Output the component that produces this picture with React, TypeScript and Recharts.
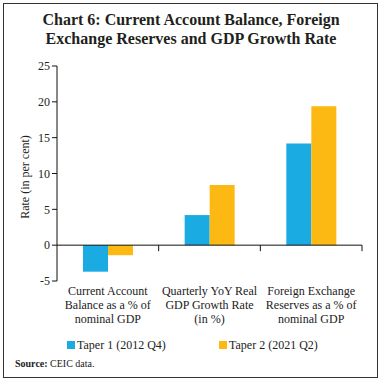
import { Bar, BarChart, ReferenceLine, XAxis, YAxis } from 'recharts';

const categories = [
  ['Current Account', 'Balance as a % of', 'nominal GDP'],
  ['Quarterly YoY Real', 'GDP Growth Rate', '(in %)'],
  ['Foreign Exchange', 'Reserves as a % of', 'nominal GDP'],
];
const taper1 = [-3.7, 4.2, 14.2];
const taper2 = [-1.4, 8.4, 19.4];
const yTicks = [-5, 0, 5, 10, 15, 20, 25];
const seriesNames = ['Taper 1 (2012 Q4)', 'Taper 2 (2021 Q2)'];

const BLUE = '#1aabe2';
const ORANGE = '#fdb913';
const FONT = '"Liberation Serif", "Times New Roman", serif';

const data = categories.map((lines, i) => ({
  name: lines.join(' '),
  taper1: taper1[i],
  taper2: taper2[i],
}));

function CategoryTick({ x, y, payload, index }: any) {
  const lines = categories[index] ?? [String(payload.value)];
  return (
    <text x={x} y={y} textAnchor="middle" fontSize={12} fill="#222" fontFamily={FONT}>
      {lines.map((line, i) => (
        <tspan key={line} x={x} dy={i === 0 ? 6 : 14}>
          {line}
        </tspan>
      ))}
    </text>
  );
}

// zero line with small downward ticks at the category boundaries
function ZeroLine({ x1, y1, x2 }: any) {
  const step = (x2 - x1) / categories.length;
  return (
    <g>
      <line x1={x1} y1={y1} x2={x2} y2={y1} stroke="#111" strokeWidth={1} />
      {categories.map((_, i) => (
        <line
          key={i}
          x1={x1 + step * (i + 1)}
          y1={y1}
          x2={x1 + step * (i + 1)}
          y2={y1 + 6}
          stroke="#111"
          strokeWidth={1}
        />
      ))}
    </g>
  );
}

export default function App() {
  const colors = [BLUE, ORANGE];
  return (
    <div style={{ position: 'relative', width: 382, height: 382, background: '#fff', fontFamily: FONT }}>
      <style>{'body{margin:0}'}</style>
      <div
        style={{
          position: 'absolute',
          left: 3,
          top: 3,
          right: 4,
          bottom: 4,
          border: '1.5px solid #333',
        }}
      />
      <div
        style={{
          position: 'absolute',
          top: 10,
          left: 0,
          width: 382,
          textAlign: 'center',
          fontWeight: 'bold',
          fontSize: 16,
          lineHeight: '19px',
          color: '#231f20',
        }}
      >
        Chart 6: Current Account Balance, Foreign
        <br />
        Exchange Reserves and GDP Growth Rate
      </div>
      <div
        style={{
          position: 'absolute',
          left: 25,
          top: 177,
          transform: 'translate(-50%, -50%) rotate(-90deg)',
          whiteSpace: 'nowrap',
          fontSize: 12,
          color: '#222',
        }}
      >
        Rate (in per cent)
      </div>
      <div style={{ position: 'absolute', left: 0, top: 0 }}>
        <BarChart
          width={382}
          height={382}
          data={data}
          margin={{ top: 66, right: 20, bottom: 56, left: 17 }}
          barCategoryGap={26}
          barGap={0}
        >
          <XAxis
            dataKey="name"
            axisLine={false}
            tickLine={false}
            height={45}
            interval={0}
            tick={<CategoryTick />}
          />
          <YAxis
            width={40}
            domain={[-5, 25]}
            ticks={yTicks}
            interval={0}
            stroke="#111"
            tick={{ fontSize: 12, fill: '#222', fontFamily: FONT }}
            tickSize={5}
          />
          <Bar dataKey="taper1" name={seriesNames[0]} fill={BLUE} isAnimationActive={false} />
          <Bar dataKey="taper2" name={seriesNames[1]} fill={ORANGE} isAnimationActive={false} />
          <ReferenceLine y={0} shape={<ZeroLine />} />
        </BarChart>
      </div>
      <div
        style={{
          position: 'absolute',
          top: 337,
          left: 67,
          display: 'flex',
          fontSize: 12,
          color: '#222',
          lineHeight: '16px',
        }}
      >
        {seriesNames.map((label, i) => (
          <div key={label} style={{ display: 'flex', alignItems: 'center', width: 152 }}>
            <span
              style={{ display: 'inline-block', width: 8, height: 8, background: colors[i], marginRight: 2 }}
            />
            {label}
          </div>
        ))}
      </div>
      <div
        style={{
          position: 'absolute',
          left: 15,
          top: 358,
          fontSize: 10,
          color: '#222',
        }}
      >
        <b>Source:</b> CEIC data.
      </div>
    </div>
  );
}
